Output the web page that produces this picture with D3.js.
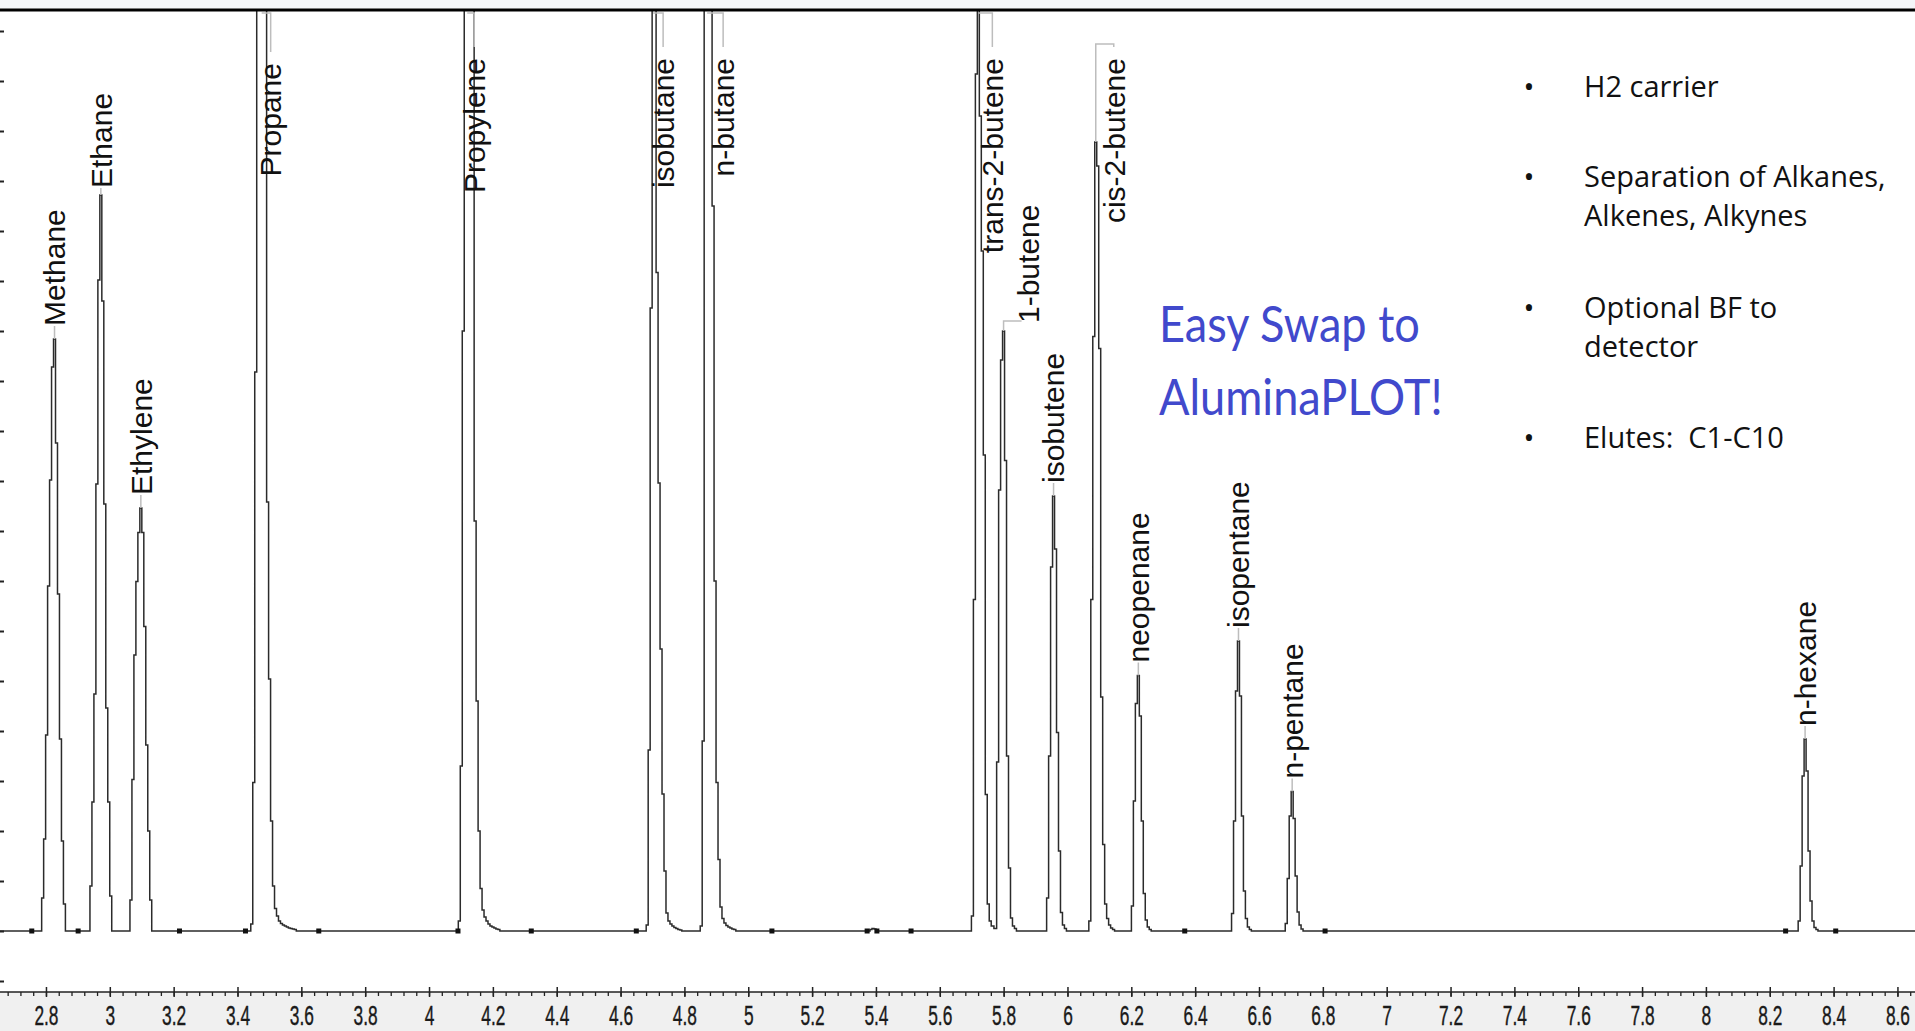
<!DOCTYPE html>
<html>
<head>
<meta charset="utf-8">
<script src="https://cdn.jsdelivr.net/npm/d3@7"></script>
<style>
    body {margin: 0; background: #fff; overflow: hidden;}
    svg {display: block;}
</style>
</head>
<body>
<svg id="chart"></svg>
<script>
/* ******************************************* */
/* ************** DATA *********************** */
// peak names, in elution order ('' = small unnamed bump)
const PEAK_NAMES = ['Methane', 'Ethane', 'Ethylene', 'Propane', 'Propylene', 'isobutane', 'n-butane', '',
    'trans-2-butene', '1-butene', 'isobutene', 'cis-2-butene', 'neopenane', 'isopentane', 'n-pentane', 'n-hexane'];

// time (min) of the first detector sample of each peak
const PEAK_START = [2.7834, 2.9347, 3.06, 3.4385, 4.0886, 4.6772, 4.8464, 5.3783,
    5.696, 5.775, 5.9316, 6.0638, 6.1972, 6.5109, 6.6791, 8.2859];

const SAMPLE_STEP = 0.0062; // min between two detector samples

// detector signal of each peak, one value per sample (1 = one y tick)
const PEAK_SIGNAL = [
    [0, 0.66, 1.84, 3.92, 6.9, 9.02, 11.28, 11.84, 9.76, 6.74, 3.84, 1.8, 0.54, 0],
    [0, 0.9, 2.58, 4.74, 8.94, 13.02, 14.72, 12.6, 8.54, 4.46, 2.58, 0.7, 0],
    [0, 0.62, 3.03, 5.52, 6.99, 7.97, 8.46, 7.97, 6.09, 3.72, 2.0, 0.62, 0],
    [0, 0.14, 2.97, 11.18, 28, 44, 46, 34, 19, 8.58, 5.04, 2.2, 0.9, 0.45, 0.3, 0.2, 0.15, 0.12, 0.1, 0.08, 0.06, 0.05, 0.04, 0.03, 0],
    [0, 0.2, 3.3, 12.0, 30, 45, 44, 31, 19.5, 8.2, 4.6, 2.0, 0.85, 0.42, 0.28, 0.2, 0.14, 0.1, 0.08, 0.06, 0.04, 0.03, 0],
    [0, 0.12, 3.62, 12.46, 24, 23, 13.17, 8.96, 5.64, 2.74, 1.2, 0.36, 0.2, 0.14, 0.1, 0.07, 0.05, 0.03, 0.02, 0],
    [0, 0.1, 3.8, 28, 48, 44, 26, 14.5, 7.0, 2.97, 1.43, 0.48, 0.25, 0.16, 0.11, 0.08, 0.06, 0.04, 0.03, 0],
    [0, 0.03, 0.05, 0.04, 0.02, 0],
    [0, 0.3, 6.63, 17.14, 19.6, 16.3, 13.6, 9.52, 2.73, 0.54, 0.2, 0.1],
    [0.05, 3.38, 8.82, 11.42, 12.0, 9.41, 3.5, 1.26, 0.26, 0.1, 0.05, 0],
    [0, 0.66, 3.5, 7.28, 8.7, 7.64, 3.97, 1.6, 0.37, 0.12, 0.05, 0],
    [0, 0.2, 6.63, 11.89, 15.78, 15.3, 11.65, 4.68, 1.73, 0.54, 0.25, 0.12, 0.06, 0.03, 0],
    [0, 0.5, 2.6, 4.55, 5.11, 4.3, 2.2, 0.75, 0.22, 0.08, 0.03, 0],
    [0, 0.35, 2.2, 4.8, 5.8, 4.7, 2.3, 0.8, 0.25, 0.08, 0.03, 0],
    [0, 0.15, 1.05, 2.3, 2.79, 2.25, 1.1, 0.38, 0.12, 0.04, 0],
    [0, 0.2, 1.3, 3.1, 3.84, 3.2, 1.6, 0.6, 0.2, 0.07, 0.03, 0]
];

// integration marks on the baseline (min)
const MARK_TIMES = [2.7555, 2.9008, 3.2183, 3.425, 3.6546, 4.0907, 4.3203, 4.6493, 5.0741,
    5.3724, 5.403, 5.51, 6.3673, 6.807, 8.2497, 8.4066];

const X_TICKS = [2.8, 3, 3.2, 3.4, 3.6, 3.8, 4, 4.2, 4.4, 4.6, 4.8, 5, 5.2, 5.4, 5.6, 5.8,
    6, 6.2, 6.4, 6.6, 6.8, 7, 7.2, 7.4, 7.6, 7.8, 8, 8.2, 8.4, 8.6];

const NOTES = [['H2 carrier'], ['Separation of Alkanes,', 'Alkenes, Alkynes'], ['Optional BF to', 'detector'], ['Elutes:  C1-C10']];
const CALLOUT = ['Easy Swap to', 'AluminaPLOT!'];

/* ******************************************* */
/* ************** LAYOUT ********************* */
const WIDTH = 1915;
const HEIGHT = 1031;
const AXIS_Y = 992;
const TOP_Y = 11;

// labels that do not sit straight above their apex
const LABEL_PLACE = {
    'Ethane': {gap: 7},
    'Propane': {hang: true, dx: 9, top: 63},
    'Propylene': {hang: true, dx: 7},
    'isobutane': {hang: true, dx: 10},
    'n-butane': {hang: true, dx: 16},
    'trans-2-butene': {hang: true, dx: 14},
    'cis-2-butene': {hang: true, dx: 18, fromApex: true},
    '1-butene': {side: true, dx: 25}
};

const svg = d3.select('#chart')
    .attr('width', WIDTH)
    .attr('height', HEIGHT);

/* ************** SCALE ********************* */
const x = d3.scaleLinear().domain([2.656, 8.655]).range([0, WIDTH]);
const y = d3.scaleLinear().domain([-1.22, 18.4]).range([AXIS_Y, TOP_Y]);

// background pieces
svg.append('rect').attr('x', 0).attr('y', 0).attr('width', WIDTH).attr('height', HEIGHT).attr('fill', '#fff');
svg.append('rect').attr('x', 0).attr('y', 0).attr('width', WIDTH).attr('height', TOP_Y).attr('fill', '#f4f6f9');
svg.append('rect').attr('x', 0).attr('y', AXIS_Y).attr('width', WIDTH).attr('height', HEIGHT - AXIS_Y).attr('fill', '#f0f0f0');

svg.append('clipPath').attr('id', 'plotClip')
    .append('rect').attr('x', 0).attr('y', TOP_Y).attr('width', WIDTH).attr('height', AXIS_Y - TOP_Y);

/* ************** TRACE ********************* */
let points = [[x.domain()[0], 0]];
PEAK_SIGNAL.forEach((values, i) => {
    values.forEach((v, j) => points.push([PEAK_START[i] + j * SAMPLE_STEP, v]));
});
points.push([x.domain()[1], 0]);
points.sort((a, b) => a[0] - b[0]);

const line = d3.line()
    .x(d => x(d[0]))
    .y(d => y(d[1]))
    .curve(d3.curveStep);

svg.append('path')
    .datum(points)
    .attr('clip-path', 'url(#plotClip)')
    .attr('fill', 'none')
    .attr('stroke', '#2b2b2b')
    .attr('stroke-width', 1.5)
    .attr('d', line);

// baseline marks
svg.selectAll('.mark').data(MARK_TIMES).enter()
    .append('rect')
    .classed('mark', true)
    .attr('x', d => x(d) - 2.5)
    .attr('y', y(0) - 2.5)
    .attr('width', 5)
    .attr('height', 5)
    .attr('fill', '#111');

/* ************** AXES ********************* */
// left ticks, no labels
svg.append('g')
    .call(d3.axisRight(y).tickValues(d3.range(-1, 19)).tickSize(4).tickFormat(''))
    .call(g => g.select('.domain').remove())
    .selectAll('line').attr('stroke', '#222').attr('stroke-width', 2);

// minor ticks every 0.04 min
const minor = d3.range(67, 217).map(k => k * 0.04);
svg.append('g')
    .attr('transform', `translate(0, ${AXIS_Y})`)
    .call(d3.axisBottom(x).tickValues(minor).tickSize(4).tickFormat(''))
    .call(g => g.select('.domain').remove())
    .selectAll('line').attr('stroke', '#222').attr('stroke-width', 1.3);

const xAxis = svg.append('g')
    .attr('transform', `translate(0, ${AXIS_Y})`)
    .call(d3.axisBottom(x).tickValues(X_TICKS).tickSize(5).tickFormat(d => String(d)));
xAxis.select('.domain').remove();
xAxis.selectAll('.tick line').attr('y1', -5).attr('stroke', '#222').attr('stroke-width', 1.5);
xAxis.selectAll('.tick text')
    .attr('y', 0)
    .attr('dy', 0)
    .attr('transform', 'translate(0, 33) scale(0.62, 1)')
    .attr('font-family', '"Liberation Sans", Arial, sans-serif')
    .attr('font-size', 28)
    .attr('stroke', '#1a1a1a')
    .attr('stroke-width', 0.4)
    .attr('fill', '#1a1a1a');

// axis line and top frame line
svg.append('line').attr('x1', 0).attr('x2', WIDTH).attr('y1', AXIS_Y).attr('y2', AXIS_Y)
    .attr('stroke', '#222').attr('stroke-width', 1.5);
svg.append('line').attr('x1', 0).attr('x2', WIDTH).attr('y1', TOP_Y - 1).attr('y2', TOP_Y - 1)
    .attr('stroke', '#000').attr('stroke-width', 3);

/* ************** PEAK LABELS ********************* */
const labels = svg.append('g');
PEAK_SIGNAL.forEach((values, i) => {
    const name = PEAK_NAMES[i];
    if (!name) return;
    const top = d3.maxIndex(values);
    const ax = x(PEAK_START[i] + top * SAMPLE_STEP);
    const ay = y(Math.min(values[top], y.domain()[1]));
    const place = LABEL_PLACE[name] || {};
    let pts, tx, ty, anchor;
    if (place.hang) {
        const startY = place.fromApex ? ay : TOP_Y + 2;
        const turnY = place.fromApex ? 44 : TOP_Y + 2;
        tx = ax + place.dx;
        ty = place.top || 58;
        anchor = 'end';
        pts = [[ax, startY], [ax, turnY], [tx, turnY], [tx, ty - 11]];
    } else if (place.side) {
        tx = ax + place.dx;
        ty = ay - 8;
        anchor = 'start';
        pts = [[ax, ay], [ax, ay - 10], [tx - 7, ay - 10]];
    } else {
        tx = ax;
        ty = ay - (place.gap || 13);
        anchor = 'start';
        pts = [[ax, ay], [ax, ty]];
    }
    labels.append('path')
        .attr('d', d3.line()(pts))
        .attr('fill', 'none')
        .attr('stroke', '#bdbdbd')
        .attr('stroke-width', 1.5);
    labels.append('text')
        .attr('transform', `translate(${tx}, ${ty}) rotate(-90)`)
        .attr('dy', '0.36em')
        .attr('text-anchor', anchor)
        .attr('font-family', '"Liberation Sans", Arial, sans-serif')
        .attr('font-size', 30)
        .attr('fill', '#111')
        .text(name);
});

/* ************** NOTES ********************* */
const NOTE_LINE = 39;
const NOTE_TOP = [97, 187, 318, 448];
const notes = svg.append('g')
    .attr('font-family', '"Open Sans", "Noto Sans", sans-serif')
    .attr('font-size', 29)
    .attr('fill', '#111');
NOTES.forEach((lines, i) => {
    notes.append('text')
        .attr('x', 1529)
        .attr('y', NOTE_TOP[i])
        .attr('text-anchor', 'middle')
        .text('\u2022');
    lines.forEach((t, j) => {
        notes.append('text')
            .attr('x', 1584)
            .attr('y', NOTE_TOP[i] + j * NOTE_LINE)
            .attr('xml:space', 'preserve')
            .style('white-space', 'pre')
            .text(t);
    });
});

const callout = svg.append('g')
    .attr('font-family', 'Lato, "Open Sans", sans-serif')
    .attr('font-size', 51)
    .attr('fill', '#4149cc');
CALLOUT.forEach((t, i) => {
    callout.append('text')
        .attr('transform', `translate(1159, ${342 + i * 73}) scale(0.885, 1)`)
        .text(t);
});
</script>
</body>
</html>
